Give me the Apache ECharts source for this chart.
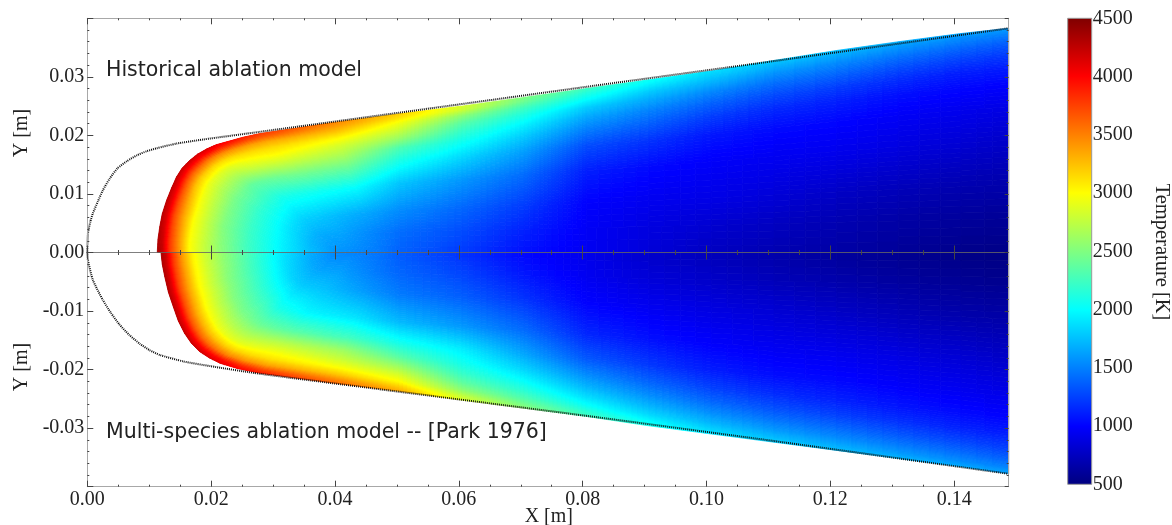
<!DOCTYPE html>
<html><head><meta charset="utf-8">
<script src="https://cdn.jsdelivr.net/npm/echarts@6/dist/echarts.min.js"></script>
<style>html,body{margin:0;padding:0;background:#fff}#c{width:1172px;height:525px}</style>
</head><body><div id="c"></div>
<script>
// axis ticks
const xMajorTicks = [0,.02,.04,.06,.08,.10,.12,.14];
const xMinorTicks = [.005,.01,.015,.025,.03,.035,.045,.05,.055,.065,.07,.075,.085,.09,.095,.105,.11,.115,.125,.13,.135];
// colour scale
const tempTicks = [500,1000,1500,2000,2500,3000,3500,4000,4500];
const jetColors = ['#00007f','#0000ff','#0080ff','#00ffff','#80ff80','#ffff00','#ff8000','#ff0000','#7f0000'];
// depth fractions from wall (0) to axis (1) along each ray
const depthFractions = [0,.03,.07,.12,.18,.25,.35,.5,.7,.85,1];
// upper half: ablated surface stations and where their rays meet the axis
const upperWallX = [.0113,.0114,.0117,.0121,.0128,.0136,.0144,.0153,.0165,.0178,.0193,.0208,.0225,.0252,.0278,.0397,.0504,.0605,.0706,.0806,.0907,.1008,.1109,.121,.131,.1411,.1488];
const upperWallY = [0,.0022,.0044,.0066,.0089,.011,.0129,.0144,.0157,.0168,.0177,.0184,.0189,.0197,.0203,.0222,.0237,.025,.0265,.028,.0295,.031,.0328,.0345,.036,.0374,.0383];
const upperAxisX = [.0403,.0403,.0403,.0403,.0403,.0403,.0403,.0403,.0403,.0403,.0403,.0403,.0403,.0418,.0433,.0474,.0504,.0605,.0706,.0806,.0907,.1008,.1109,.121,.131,.1411,.1488];
const upperTemps = [
[4350,4250,3800,3450,3000,2800,2550,2250,1950,1750,1590],
[4320,4200,3780,3420,3000,2800,2540,2245,1945,1745,1590],
[4300,4150,3750,3400,3000,2800,2530,2240,1940,1740,1590],
[4290,4120,3720,3370,3000,2790,2510,2230,1935,1730,1590],
[4280,4100,3700,3350,3000,2780,2500,2220,1930,1720,1590],
[4260,4070,3670,3300,2970,2760,2490,2210,1915,1710,1590],
[4250,4050,3650,3250,2950,2750,2480,2200,1900,1705,1590],
[4230,4020,3620,3220,2920,2720,2460,2190,1890,1700,1590],
[4220,4000,3600,3200,2900,2700,2450,2180,1880,1695,1590],
[4180,3970,3550,3170,2880,2680,2420,2165,1865,1690,1590],
[4150,3950,3500,3150,2880,2680,2380,2150,1850,1680,1590],
[4080,3880,3470,3150,2920,2720,2390,2120,1835,1675,1590],
[4000,3800,3420,3150,2950,2750,2400,2090,1820,1670,1590],
[3900,3720,3380,3150,2980,2770,2420,2080,1790,1650,1565],
[3800,3650,3350,3150,3000,2780,2450,2070,1760,1640,1540],
[3500,3400,3250,3030,2830,2670,2400,2000,1650,1520,1470],
[3200,3120,2950,2800,2600,2300,2080,1780,1550,1430,1380],
[2850,2800,2550,2350,2200,2050,1850,1600,1400,1300,1230],
[2500,2420,2250,2100,1950,1800,1620,1420,1230,1130,1060],
[2250,2130,2000,1800,1650,1500,1300,1120,1000,970,950],
[2050,1950,1800,1660,1510,1380,1200,1040,940,880,850],
[1880,1800,1680,1520,1380,1240,1090,980,905,820,760],
[1800,1700,1570,1430,1290,1160,1040,950,850,760,700],
[1750,1650,1520,1390,1240,1120,1020,930,780,700,650],
[1700,1580,1450,1310,1170,1060,970,880,730,650,600],
[1650,1520,1390,1250,1110,1020,930,830,690,610,550],
[1620,1490,1350,1220,1100,1000,900,790,670,590,530]];
// lower half
const lowerWallX = [.0119,.0121,.0125,.0131,.0139,.0147,.0157,.0168,.0181,.0197,.0214,.0242,.0278,.0397,.0504,.0605,.0706,.0806,.0907,.1008,.1109,.121,.131,.1411,.1488];
const lowerWallY = [0,-.002,-.0041,-.0068,-.0093,-.0117,-.0138,-.0155,-.0169,-.018,-.0189,-.0198,-.0206,-.0223,-.0237,-.0252,-.0266,-.028,-.0296,-.031,-.0324,-.0338,-.0352,-.0366,-.0378];
const lowerAxisX = [.0403,.0403,.0403,.0403,.0403,.0403,.0403,.0403,.0403,.0403,.0403,.0418,.0433,.0474,.0504,.0605,.0706,.0806,.0907,.1008,.1109,.121,.131,.1411,.1488];
const lowerTemps = [
[4350,4200,3800,3400,3050,2820,2580,2280,1900,1680,1530],
[4330,4170,3770,3400,3050,2820,2570,2270,1890,1675,1530],
[4320,4150,3750,3400,3050,2820,2560,2260,1880,1670,1530],
[4300,4120,3720,3370,3030,2810,2540,2250,1870,1665,1530],
[4280,4100,3700,3350,3020,2800,2530,2240,1860,1660,1530],
[4260,4070,3670,3320,3000,2780,2510,2230,1850,1655,1530],
[4250,4050,3650,3300,2980,2770,2500,2220,1840,1650,1530],
[4220,4020,3620,3270,2950,2740,2480,2210,1830,1650,1530],
[4200,4000,3600,3250,2930,2720,2470,2200,1820,1645,1530],
[4160,3970,3550,3200,2900,2700,2440,2150,1810,1640,1530],
[4120,3950,3500,3180,2900,2700,2420,2100,1800,1640,1530],
[4020,3840,3430,3150,2930,2720,2380,2050,1780,1630,1520],
[3920,3730,3370,3120,2950,2730,2350,1980,1750,1620,1510],
[3620,3480,3230,3000,2800,2620,2250,1900,1600,1490,1440],
[3350,3220,3020,2850,2620,2350,2080,1730,1480,1400,1360],
[2850,2780,2560,2380,2220,2080,1930,1600,1370,1270,1190],
[2550,2450,2300,2150,2000,1840,1650,1420,1200,1090,1020],
[2250,2180,2030,1880,1720,1560,1350,1150,1000,950,920],
[2080,1990,1840,1700,1550,1400,1220,1060,940,850,800],
[1900,1820,1690,1550,1400,1260,1110,990,880,790,730],
[1820,1720,1590,1450,1310,1180,1050,950,830,730,670],
[1760,1660,1530,1400,1250,1130,1030,930,780,680,610],
[1720,1600,1470,1330,1190,1080,990,890,730,630,570],
[1680,1540,1410,1270,1130,1040,950,840,680,590,530],
[1650,1510,1370,1230,1110,1010,920,800,660,570,510]];
// original (un-ablated) body outline
const outlineUpperX = [0,.0001,.0005,.0009,.0017,.0025,.0036,.0049,.0064,.008,.0096,.0112,.0144,.0187,.0278,.0505,.0806,.1109,.1488];
const outlineUpperY = [0,.0032,.0053,.0067,.0087,.0106,.0126,.0144,.0156,.0166,.0173,.0178,.0186,.0193,.0206,.0239,.0283,.0327,.0383];
const outlineLowerX = [0,.0001,.0009,.0025,.0038,.0052,.0068,.0085,.0101,.0117,.0155,.0198,.0278,.0505,.0806,.1109,.1488];
const outlineLowerY = [0,-.0013,-.0047,-.0081,-.0103,-.0123,-.0141,-.0156,-.0167,-.0175,-.0186,-.0194,-.0207,-.0238,-.0279,-.0322,-.0378];

const halves = [
 {wx:upperWallX, wy:upperWallY, ax:upperAxisX, t:upperTemps},
 {wx:lowerWallX, wy:lowerWallY, ax:lowerAxisX, t:lowerTemps}];

const parsed = jetColors.map(c=>[1,3,5].map(i=>parseInt(c.substr(i,2),16)));
function colourOf(T){
  const p = Math.max(0,Math.min(tempTicks.length-1.001,(T-tempTicks[0])/(tempTicks[1]-tempTicks[0])));
  const i = Math.floor(p), f = p-i;
  const a = parsed[i], b = parsed[i+1];
  return 'rgb('+a.map((v,j)=>Math.round(v+(b[j]-v)*f)).join(',')+')';
}
function pointOf(H,k,d){
  const e = depthFractions[d];
  return [H.wx[k]+(H.ax[k]-H.wx[k])*e, H.wy[k]*(1-e)];
}
const cells = [];
halves.forEach((H,h)=>{
  for(let k=0;k<H.wx.length-1;k++) for(let d=0;d<depthFractions.length-1;d++){
    const p = pointOf(H,k,d);
    cells.push([p[0],p[1],H.t[k][d],h,k,d]);
  }
});
function renderCell(params,api){
  const H = halves[api.value(3)], k = api.value(4), d = api.value(5);
  const c = [pointOf(H,k,d),pointOf(H,k+1,d),pointOf(H,k+1,d+1),pointOf(H,k,d+1)].map(p=>api.coord(p));
  const t = [H.t[k][d],H.t[k+1][d],H.t[k+1][d+1],H.t[k][d+1]];
  const nu = Math.max(1,Math.min(16,Math.ceil(Math.max(Math.abs(t[0]-t[1]),Math.abs(t[3]-t[2]))/18)));
  const nv = Math.max(1,Math.min(16,Math.ceil(Math.max(Math.abs(t[0]-t[3]),Math.abs(t[1]-t[2]))/18)));
  const at = (u,v)=>[
    (1-v)*((1-u)*c[0][0]+u*c[1][0])+v*((1-u)*c[3][0]+u*c[2][0]),
    (1-v)*((1-u)*c[0][1]+u*c[1][1])+v*((1-u)*c[3][1]+u*c[2][1])];
  const tt = (u,v)=>(1-v)*((1-u)*t[0]+u*t[1])+v*((1-u)*t[3]+u*t[2]);
  const children = [];
  for(let i=0;i<nu;i++) for(let j=0;j<nv;j++){
    const col = colourOf(tt((i+.5)/nu,(j+.5)/nv));
    children.push({type:'polygon',silent:true,
      shape:{points:[at(i/nu,j/nv),at((i+1)/nu,j/nv),at((i+1)/nu,(j+1)/nv),at(i/nu,(j+1)/nv)]},
      style:{fill:col,stroke:col,lineWidth:0.8}});
  }
  return {type:'group',children};
}
function renderBar(params,api){
  const a = api.coord([0,tempTicks[tempTicks.length-1]]), b = api.coord([1,tempTicks[0]]);
  return {type:'rect',silent:true,shape:{x:a[0],y:a[1],width:b[0]-a[0],height:b[1]-a[1]},
    style:{stroke:'#999',lineWidth:1,fill:new echarts.graphic.LinearGradient(0,1,0,0,
      jetColors.map((c,i)=>({offset:i/(jetColors.length-1),color:c})))}};
}
const serif = 'Liberation Serif';
const frame = '#a8a8a8', tick = '#444';
function xAxisAt(position,offset,values,length,lineColor){
  return {type:'value',gridIndex:0,min:0,max:.1488,position:position,offset:offset,z:10,splitLine:{show:false},
    axisLabel:{show:false},
    axisLine:{show:!!lineColor,onZero:false,lineStyle:{color:lineColor||frame,width:lineColor==='#666'?.6:1}},
    axisTick:{show:true,inside:true,length:length,customValues:values,lineStyle:{color:tick,width:1}}};
}
const yBase = {type:'value',gridIndex:0,min:-.04,max:.04,interval:.01,z:10,splitLine:{show:false},
  axisLine:{onZero:false,show:true,lineStyle:{color:frame,width:1}},
  axisTick:{show:true,inside:true,length:6,lineStyle:{color:tick,width:1}},
  minorTick:{show:true,splitNumber:5,length:2,lineStyle:{color:tick,width:1}}};
const option = {
  animation:false,
  backgroundColor:'#ffffff',
  textStyle:{fontFamily:serif},
  grid:[
    {left:87.3,top:18.3,width:921.4,height:468.4,show:false,outerBoundsMode:'none'},
    {left:1067.7,top:18.3,width:24,height:466,show:false,outerBoundsMode:'none'}],
  xAxis:[
    Object.assign(xAxisAt('bottom',0,xMajorTicks,6,frame),{
      axisLabel:{show:true,margin:3,fontFamily:serif,fontSize:20,color:'#222',hideOverlap:false,
        customValues:xMajorTicks,formatter:v=>v.toFixed(2)}}),
    xAxisAt('top',0,xMajorTicks,6,frame),
    xAxisAt('bottom',-234.2,xMajorTicks,7,'#666'),
    xAxisAt('top',-234.2,xMajorTicks,7,'#666'),
    xAxisAt('bottom',0,xMinorTicks,2,null),
    xAxisAt('top',0,xMinorTicks,2,null),
    xAxisAt('bottom',-234.2,xMinorTicks,2.5,null),
    xAxisAt('top',-234.2,xMinorTicks,2.5,null),
    {type:'value',gridIndex:1,show:false,min:0,max:1}
  ],
  yAxis:[
    Object.assign({},yBase,{position:'left',
      axisLabel:{show:true,margin:3,fontFamily:serif,fontSize:20,color:'#222',
        formatter:v=>Math.abs(v)>.035?'':v.toFixed(2)}}),
    Object.assign({},yBase,{position:'right',axisLabel:{show:false},
      axisTick:{show:true,inside:true,length:4,lineStyle:{color:tick,width:1}}}),
    {type:'value',gridIndex:1,position:'right',min:500,max:4500,interval:500,z:10,splitLine:{show:false},
      axisLine:{show:false},axisTick:{show:false},
      axisLabel:{margin:1,fontFamily:serif,fontSize:20,color:'#222',formatter:v=>String(v)}}
  ],
  series:[
    {type:'custom',xAxisIndex:0,yAxisIndex:0,silent:true,z:2,data:cells,
      encode:{x:0,y:1},renderItem:renderCell,progressive:0,clip:true},
    {type:'line',xAxisIndex:0,yAxisIndex:0,z:4,symbol:'none',smooth:.2,silent:true,
      data:outlineUpperX.map((x,i)=>[x,outlineUpperY[i]]),
      lineStyle:{type:[1,1],color:'#111',width:2}},
    {type:'line',xAxisIndex:0,yAxisIndex:0,z:4,symbol:'none',smooth:.2,silent:true,
      data:outlineLowerX.map((x,i)=>[x,outlineLowerY[i]]),
      lineStyle:{type:[1,1],color:'#111',width:2}},
    {type:'custom',xAxisIndex:8,yAxisIndex:2,silent:true,z:2,data:[[0,500]],encode:{x:0,y:1},renderItem:renderBar}
  ],
  graphic:[
    {type:'text',left:106,top:60,style:{text:'Historical ablation model',font:'20.5px "DejaVu Sans"',fill:'#222'}},
    {type:'text',left:106,top:422,style:{text:'Multi-species ablation model -- [Park 1976]',font:'20.5px "DejaVu Sans"',fill:'#222'}},
    {type:'text',x:22,y:133,rotation:Math.PI/2,style:{text:'Y [m]',font:'20px "Liberation Serif"',fill:'#222',align:'center',verticalAlign:'middle'}},
    {type:'text',x:22,y:367,rotation:Math.PI/2,style:{text:'Y [m]',font:'20px "Liberation Serif"',fill:'#222',align:'center',verticalAlign:'middle'}},
    {type:'text',x:548.8,y:517,style:{text:'X [m]',font:'20px "Liberation Serif"',fill:'#222',align:'center',verticalAlign:'middle'}},
    {type:'text',x:1161,y:252,rotation:-Math.PI/2,style:{text:'Temperature [K]',font:'20.5px "Liberation Serif"',fill:'#222',align:'center',verticalAlign:'middle'}}
  ]
};
const chart = echarts.init(document.getElementById('c'),null,{renderer:'canvas'});
chart.setOption(option);
</script></body></html>
